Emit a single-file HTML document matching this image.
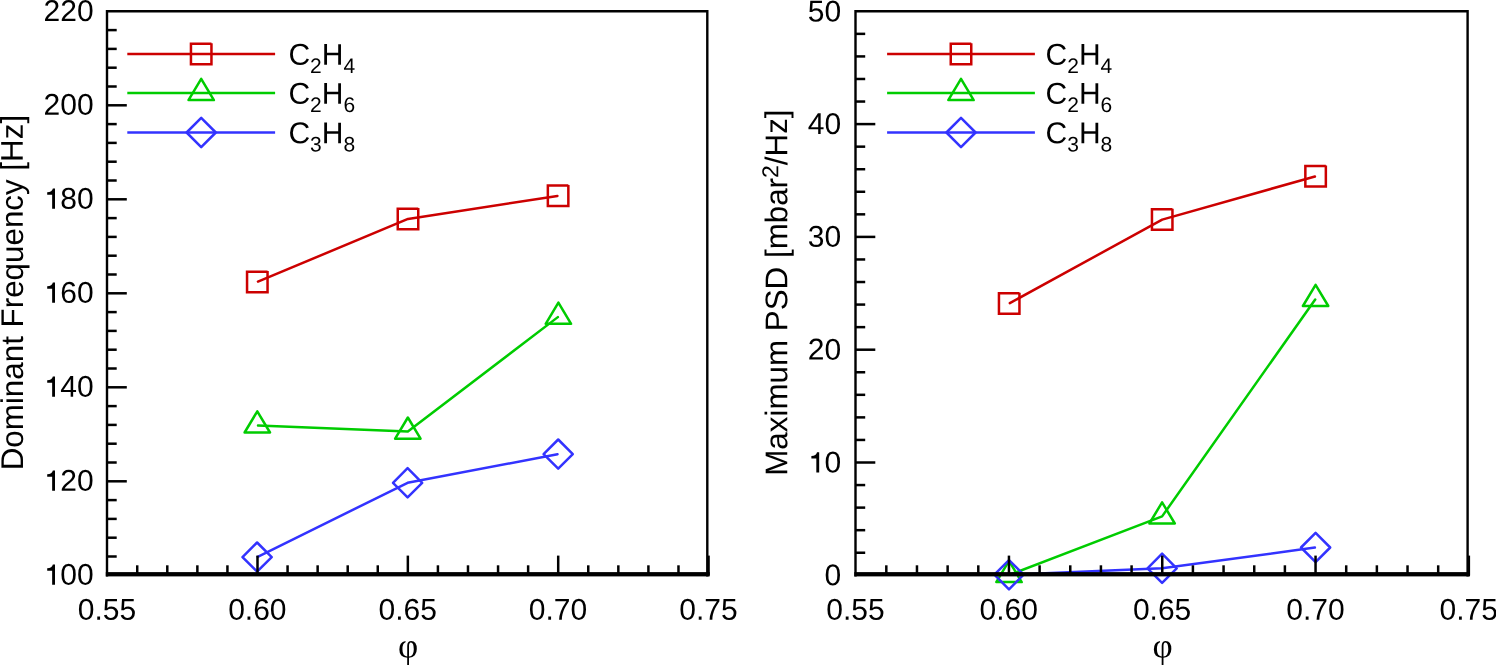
<!DOCTYPE html>
<html><head><meta charset="utf-8"><title>chart</title>
<style>html,body{margin:0;padding:0;background:#fff;overflow:hidden;}svg{display:block;will-change:transform;}text{font-family:"Liberation Sans",sans-serif;fill:#000;text-rendering:geometricPrecision;}</style>
</head><body>
<svg width="1496" height="665" viewBox="0 0 1496 665">
<rect x="0" y="0" width="1496" height="665" fill="#fff"/>
<polyline points="257.95,281.63 408.00,218.90 557.41,195.91" fill="none" stroke="#cc0000" stroke-width="2.5" stroke-linecap="round" stroke-linejoin="round"/>
<path d="M267.55 271.65L247.05 271.65L247.05 292.15L267.55 292.15L267.55 271.05" fill="none" stroke="#cc0000" stroke-width="2.5" stroke-linejoin="miter"/>
<path d="M418.25 208.65L397.75 208.65L397.75 229.15L418.25 229.15L418.25 208.05" fill="none" stroke="#cc0000" stroke-width="2.5" stroke-linejoin="miter"/>
<path d="M568.35 185.55L547.85 185.55L547.85 206.05L568.35 206.05L568.35 184.95" fill="none" stroke="#cc0000" stroke-width="2.5" stroke-linejoin="miter"/>
<polyline points="258.00,425.43 407.85,431.60 557.84,317.12" fill="none" stroke="#00cc00" stroke-width="2.5" stroke-linecap="round" stroke-linejoin="round"/>
<path d="M257.30 411.30L270.00 432.50L244.60 432.50Z" fill="none" stroke="#00cc00" stroke-width="2.5" stroke-linejoin="round"/>
<path d="M407.85 417.50L420.55 438.70L395.15 438.70Z" fill="none" stroke="#00cc00" stroke-width="2.5" stroke-linejoin="round"/>
<path d="M558.40 302.60L571.10 323.80L545.70 323.80Z" fill="none" stroke="#00cc00" stroke-width="2.5" stroke-linejoin="round"/>
<polyline points="257.73,556.79 407.60,482.80 557.51,454.23" fill="none" stroke="#3333ff" stroke-width="2.5" stroke-linecap="round" stroke-linejoin="round"/>
<path d="M257.10 542.50L271.70 557.10L257.10 571.70L242.50 557.10Z" fill="none" stroke="#3333ff" stroke-width="2.5" stroke-linejoin="round"/>
<path d="M407.60 468.20L422.20 482.80L407.60 497.40L393.00 482.80Z" fill="none" stroke="#3333ff" stroke-width="2.5" stroke-linejoin="round"/>
<path d="M558.20 439.50L572.80 454.10L558.20 468.70L543.60 454.10Z" fill="none" stroke="#3333ff" stroke-width="2.5" stroke-linejoin="round"/>
<line x1="127.3" y1="54.0" x2="275.1" y2="54.0" stroke="#cc0000" stroke-width="2.5"/>
<path d="M211.45 43.75L190.95 43.75L190.95 64.25L211.45 64.25L211.45 43.15" fill="none" stroke="#cc0000" stroke-width="2.5" stroke-linejoin="miter"/>
<text x="288.4" y="64.70" transform="rotate(0.03 288.4 64.70)" font-size="30">C<tspan font-size="21" dy="8.2">2</tspan><tspan dy="-8.2">H</tspan><tspan font-size="21" dy="8.2">4</tspan></text>
<line x1="127.3" y1="93.0" x2="275.1" y2="93.0" stroke="#00cc00" stroke-width="2.5"/>
<path d="M201.20 78.90L213.90 100.10L188.50 100.10Z" fill="none" stroke="#00cc00" stroke-width="2.5" stroke-linejoin="round"/>
<text x="288.4" y="103.70" transform="rotate(0.03 288.4 103.70)" font-size="30">C<tspan font-size="21" dy="8.2">2</tspan><tspan dy="-8.2">H</tspan><tspan font-size="21" dy="8.2">6</tspan></text>
<line x1="127.3" y1="132.5" x2="275.1" y2="132.5" stroke="#3333ff" stroke-width="2.5"/>
<path d="M201.20 117.90L215.80 132.50L201.20 147.10L186.60 132.50Z" fill="none" stroke="#3333ff" stroke-width="2.5" stroke-linejoin="round"/>
<text x="288.4" y="143.20" transform="rotate(0.03 288.4 143.20)" font-size="30">C<tspan font-size="21" dy="8.2">3</tspan><tspan dy="-8.2">H</tspan><tspan font-size="21" dy="8.2">8</tspan></text>
<path d="M107.0 576.4L107.0 11.2L707.3 11.2L707.3 576.4" fill="none" stroke="#000" stroke-width="2.4" stroke-linejoin="miter"/>
<rect x="105.8" y="572.1" width="603.9" height="4.2999999999999545" fill="#000"/>
<text x="93.60" y="584.85" transform="rotate(0.03 93.60 584.85)" font-size="30" text-anchor="end">00</text>
<path transform="translate(43.55 584.85)" d="M8.6 0H11.45V-20.3H9.3Q8.6 -16.8 3.65 -16.5V-14.0H8.6Z" fill="#000"/>
<line x1="107.0" y1="556.50" x2="116.7" y2="556.50" stroke="#000" stroke-width="2.5"/>
<line x1="107.0" y1="537.70" x2="116.7" y2="537.70" stroke="#000" stroke-width="2.5"/>
<line x1="107.0" y1="518.90" x2="116.7" y2="518.90" stroke="#000" stroke-width="2.5"/>
<line x1="107.0" y1="500.10" x2="116.7" y2="500.10" stroke="#000" stroke-width="2.5"/>
<line x1="107.0" y1="481.30" x2="126.8" y2="481.30" stroke="#000" stroke-width="2.5"/>
<text x="93.60" y="490.85" transform="rotate(0.03 93.60 490.85)" font-size="30" text-anchor="end">20</text>
<path transform="translate(43.55 490.85)" d="M8.6 0H11.45V-20.3H9.3Q8.6 -16.8 3.65 -16.5V-14.0H8.6Z" fill="#000"/>
<line x1="107.0" y1="462.50" x2="116.7" y2="462.50" stroke="#000" stroke-width="2.5"/>
<line x1="107.0" y1="443.70" x2="116.7" y2="443.70" stroke="#000" stroke-width="2.5"/>
<line x1="107.0" y1="424.90" x2="116.7" y2="424.90" stroke="#000" stroke-width="2.5"/>
<line x1="107.0" y1="406.10" x2="116.7" y2="406.10" stroke="#000" stroke-width="2.5"/>
<line x1="107.0" y1="387.30" x2="126.8" y2="387.30" stroke="#000" stroke-width="2.5"/>
<text x="93.60" y="396.85" transform="rotate(0.03 93.60 396.85)" font-size="30" text-anchor="end">40</text>
<path transform="translate(43.55 396.85)" d="M8.6 0H11.45V-20.3H9.3Q8.6 -16.8 3.65 -16.5V-14.0H8.6Z" fill="#000"/>
<line x1="107.0" y1="368.50" x2="116.7" y2="368.50" stroke="#000" stroke-width="2.5"/>
<line x1="107.0" y1="349.70" x2="116.7" y2="349.70" stroke="#000" stroke-width="2.5"/>
<line x1="107.0" y1="330.90" x2="116.7" y2="330.90" stroke="#000" stroke-width="2.5"/>
<line x1="107.0" y1="312.10" x2="116.7" y2="312.10" stroke="#000" stroke-width="2.5"/>
<line x1="107.0" y1="293.30" x2="126.8" y2="293.30" stroke="#000" stroke-width="2.5"/>
<text x="93.60" y="302.85" transform="rotate(0.03 93.60 302.85)" font-size="30" text-anchor="end">60</text>
<path transform="translate(43.55 302.85)" d="M8.6 0H11.45V-20.3H9.3Q8.6 -16.8 3.65 -16.5V-14.0H8.6Z" fill="#000"/>
<line x1="107.0" y1="274.50" x2="116.7" y2="274.50" stroke="#000" stroke-width="2.5"/>
<line x1="107.0" y1="255.70" x2="116.7" y2="255.70" stroke="#000" stroke-width="2.5"/>
<line x1="107.0" y1="236.90" x2="116.7" y2="236.90" stroke="#000" stroke-width="2.5"/>
<line x1="107.0" y1="218.10" x2="116.7" y2="218.10" stroke="#000" stroke-width="2.5"/>
<line x1="107.0" y1="199.30" x2="126.8" y2="199.30" stroke="#000" stroke-width="2.5"/>
<text x="93.60" y="208.85" transform="rotate(0.03 93.60 208.85)" font-size="30" text-anchor="end">80</text>
<path transform="translate(43.55 208.85)" d="M8.6 0H11.45V-20.3H9.3Q8.6 -16.8 3.65 -16.5V-14.0H8.6Z" fill="#000"/>
<line x1="107.0" y1="180.50" x2="116.7" y2="180.50" stroke="#000" stroke-width="2.5"/>
<line x1="107.0" y1="161.70" x2="116.7" y2="161.70" stroke="#000" stroke-width="2.5"/>
<line x1="107.0" y1="142.90" x2="116.7" y2="142.90" stroke="#000" stroke-width="2.5"/>
<line x1="107.0" y1="124.10" x2="116.7" y2="124.10" stroke="#000" stroke-width="2.5"/>
<line x1="107.0" y1="105.30" x2="126.8" y2="105.30" stroke="#000" stroke-width="2.5"/>
<text x="93.60" y="114.85" transform="rotate(0.03 93.60 114.85)" font-size="30" text-anchor="end">200</text>
<line x1="107.0" y1="86.50" x2="116.7" y2="86.50" stroke="#000" stroke-width="2.5"/>
<line x1="107.0" y1="67.70" x2="116.7" y2="67.70" stroke="#000" stroke-width="2.5"/>
<line x1="107.0" y1="48.90" x2="116.7" y2="48.90" stroke="#000" stroke-width="2.5"/>
<line x1="107.0" y1="30.10" x2="116.7" y2="30.10" stroke="#000" stroke-width="2.5"/>
<text x="93.60" y="20.95" transform="rotate(0.03 93.60 20.95)" font-size="30" text-anchor="end">220</text>
<text x="107.00" y="619.7" transform="rotate(0.03 107.00 619.7)" font-size="30" text-anchor="middle">0.55</text>
<line x1="137.22" y1="575.4" x2="137.22" y2="565.3" stroke="#000" stroke-width="2.5"/>
<line x1="167.29" y1="575.4" x2="167.29" y2="565.3" stroke="#000" stroke-width="2.5"/>
<line x1="197.36" y1="575.4" x2="197.36" y2="565.3" stroke="#000" stroke-width="2.5"/>
<line x1="227.43" y1="575.4" x2="227.43" y2="565.3" stroke="#000" stroke-width="2.5"/>
<line x1="257.50" y1="575.4" x2="257.50" y2="555.6" stroke="#000" stroke-width="2.5"/>
<text x="257.35" y="619.7" transform="rotate(0.03 257.35 619.7)" font-size="30" text-anchor="middle">0.60</text>
<line x1="287.57" y1="575.4" x2="287.57" y2="565.3" stroke="#000" stroke-width="2.5"/>
<line x1="317.64" y1="575.4" x2="317.64" y2="565.3" stroke="#000" stroke-width="2.5"/>
<line x1="347.71" y1="575.4" x2="347.71" y2="565.3" stroke="#000" stroke-width="2.5"/>
<line x1="377.78" y1="575.4" x2="377.78" y2="565.3" stroke="#000" stroke-width="2.5"/>
<line x1="407.85" y1="575.4" x2="407.85" y2="555.6" stroke="#000" stroke-width="2.5"/>
<text x="407.70" y="619.7" transform="rotate(0.03 407.70 619.7)" font-size="30" text-anchor="middle">0.65</text>
<line x1="437.92" y1="575.4" x2="437.92" y2="565.3" stroke="#000" stroke-width="2.5"/>
<line x1="467.99" y1="575.4" x2="467.99" y2="565.3" stroke="#000" stroke-width="2.5"/>
<line x1="498.06" y1="575.4" x2="498.06" y2="565.3" stroke="#000" stroke-width="2.5"/>
<line x1="528.13" y1="575.4" x2="528.13" y2="565.3" stroke="#000" stroke-width="2.5"/>
<line x1="558.20" y1="575.4" x2="558.20" y2="555.6" stroke="#000" stroke-width="2.5"/>
<text x="558.05" y="619.7" transform="rotate(0.03 558.05 619.7)" font-size="30" text-anchor="middle">0.70</text>
<line x1="588.27" y1="575.4" x2="588.27" y2="565.3" stroke="#000" stroke-width="2.5"/>
<line x1="618.34" y1="575.4" x2="618.34" y2="565.3" stroke="#000" stroke-width="2.5"/>
<line x1="648.41" y1="575.4" x2="648.41" y2="565.3" stroke="#000" stroke-width="2.5"/>
<line x1="678.48" y1="575.4" x2="678.48" y2="565.3" stroke="#000" stroke-width="2.5"/>
<line x1="708.55" y1="575.4" x2="708.55" y2="555.6" stroke="#000" stroke-width="2.5"/>
<text x="708.40" y="619.7" transform="rotate(0.03 708.40 619.7)" font-size="30" text-anchor="middle">0.75</text>
<text x="408.20" y="657.6" transform="rotate(0.03 407.70 657.6)" font-size="35" text-anchor="middle" style="font-family:'Liberation Serif',serif">φ</text>
<text transform="translate(22.9 292.60) rotate(-90.03)" font-size="31.35" text-anchor="middle">Dominant Frequency [Hz]</text>
<polyline points="1009.81,303.16 1162.20,219.60 1314.93,176.49" fill="none" stroke="#cc0000" stroke-width="2.5" stroke-linecap="round" stroke-linejoin="round"/>
<path d="M1019.45 293.25L998.95 293.25L998.95 313.75L1019.45 313.75L1019.45 292.65" fill="none" stroke="#cc0000" stroke-width="2.5" stroke-linejoin="miter"/>
<path d="M1172.45 209.35L1151.95 209.35L1151.95 229.85L1172.45 229.85L1172.45 208.75" fill="none" stroke="#cc0000" stroke-width="2.5" stroke-linejoin="miter"/>
<path d="M1325.85 166.05L1305.35 166.05L1305.35 186.55L1325.85 186.55L1325.85 165.45" fill="none" stroke="#cc0000" stroke-width="2.5" stroke-linejoin="miter"/>
<polyline points="1009.65,574.75 1162.10,516.40 1315.20,299.47" fill="none" stroke="#00cc00" stroke-width="2.5" stroke-linecap="round" stroke-linejoin="round"/>
<path d="M1009.00 560.90L1021.70 582.10L996.30 582.10Z" fill="none" stroke="#00cc00" stroke-width="2.5" stroke-linejoin="round"/>
<path d="M1162.10 502.30L1174.80 523.50L1149.40 523.50Z" fill="none" stroke="#00cc00" stroke-width="2.5" stroke-linejoin="round"/>
<path d="M1315.60 284.80L1328.30 306.00L1302.90 306.00Z" fill="none" stroke="#00cc00" stroke-width="2.5" stroke-linejoin="round"/>
<polyline points="1009.70,574.67 1162.10,568.30 1314.91,547.59" fill="none" stroke="#3333ff" stroke-width="2.5" stroke-linecap="round" stroke-linejoin="round"/>
<path d="M1009.00 560.10L1023.60 574.70L1009.00 589.30L994.40 574.70Z" fill="none" stroke="#3333ff" stroke-width="2.5" stroke-linejoin="round"/>
<path d="M1162.10 553.70L1176.70 568.30L1162.10 582.90L1147.50 568.30Z" fill="none" stroke="#3333ff" stroke-width="2.5" stroke-linejoin="round"/>
<path d="M1315.60 532.90L1330.20 547.50L1315.60 562.10L1301.00 547.50Z" fill="none" stroke="#3333ff" stroke-width="2.5" stroke-linejoin="round"/>
<line x1="887.1" y1="54.0" x2="1034.9" y2="54.0" stroke="#cc0000" stroke-width="2.5"/>
<path d="M971.25 43.75L950.75 43.75L950.75 64.25L971.25 64.25L971.25 43.15" fill="none" stroke="#cc0000" stroke-width="2.5" stroke-linejoin="miter"/>
<text x="1045.6" y="64.70" transform="rotate(0.03 1045.6 64.70)" font-size="30">C<tspan font-size="21" dy="8.2">2</tspan><tspan dy="-8.2">H</tspan><tspan font-size="21" dy="8.2">4</tspan></text>
<line x1="887.1" y1="93.0" x2="1034.9" y2="93.0" stroke="#00cc00" stroke-width="2.5"/>
<path d="M961.00 78.90L973.70 100.10L948.30 100.10Z" fill="none" stroke="#00cc00" stroke-width="2.5" stroke-linejoin="round"/>
<text x="1045.6" y="103.70" transform="rotate(0.03 1045.6 103.70)" font-size="30">C<tspan font-size="21" dy="8.2">2</tspan><tspan dy="-8.2">H</tspan><tspan font-size="21" dy="8.2">6</tspan></text>
<line x1="887.1" y1="132.5" x2="1034.9" y2="132.5" stroke="#3333ff" stroke-width="2.5"/>
<path d="M961.00 117.90L975.60 132.50L961.00 147.10L946.40 132.50Z" fill="none" stroke="#3333ff" stroke-width="2.5" stroke-linejoin="round"/>
<text x="1045.6" y="143.20" transform="rotate(0.03 1045.6 143.20)" font-size="30">C<tspan font-size="21" dy="8.2">3</tspan><tspan dy="-8.2">H</tspan><tspan font-size="21" dy="8.2">8</tspan></text>
<path d="M855.5 576.4L855.5 11.2L1467.6 11.2L1467.6 576.4" fill="none" stroke="#000" stroke-width="2.4" stroke-linejoin="miter"/>
<rect x="854.3" y="572.1" width="615.6999999999999" height="4.2999999999999545" fill="#000"/>
<text x="841.10" y="585.25" transform="rotate(0.03 841.10 585.25)" font-size="30" text-anchor="end">0</text>
<line x1="855.5" y1="552.74" x2="865.2" y2="552.74" stroke="#000" stroke-width="2.5"/>
<line x1="855.5" y1="530.18" x2="865.2" y2="530.18" stroke="#000" stroke-width="2.5"/>
<line x1="855.5" y1="507.62" x2="865.2" y2="507.62" stroke="#000" stroke-width="2.5"/>
<line x1="855.5" y1="485.06" x2="865.2" y2="485.06" stroke="#000" stroke-width="2.5"/>
<line x1="855.5" y1="462.50" x2="875.3" y2="462.50" stroke="#000" stroke-width="2.5"/>
<text x="841.10" y="472.45" transform="rotate(0.03 841.10 472.45)" font-size="30" text-anchor="end">0</text>
<path transform="translate(807.73 472.45)" d="M8.6 0H11.45V-20.3H9.3Q8.6 -16.8 3.65 -16.5V-14.0H8.6Z" fill="#000"/>
<line x1="855.5" y1="439.94" x2="865.2" y2="439.94" stroke="#000" stroke-width="2.5"/>
<line x1="855.5" y1="417.38" x2="865.2" y2="417.38" stroke="#000" stroke-width="2.5"/>
<line x1="855.5" y1="394.82" x2="865.2" y2="394.82" stroke="#000" stroke-width="2.5"/>
<line x1="855.5" y1="372.26" x2="865.2" y2="372.26" stroke="#000" stroke-width="2.5"/>
<line x1="855.5" y1="349.70" x2="875.3" y2="349.70" stroke="#000" stroke-width="2.5"/>
<text x="841.10" y="359.65" transform="rotate(0.03 841.10 359.65)" font-size="30" text-anchor="end">20</text>
<line x1="855.5" y1="327.14" x2="865.2" y2="327.14" stroke="#000" stroke-width="2.5"/>
<line x1="855.5" y1="304.58" x2="865.2" y2="304.58" stroke="#000" stroke-width="2.5"/>
<line x1="855.5" y1="282.02" x2="865.2" y2="282.02" stroke="#000" stroke-width="2.5"/>
<line x1="855.5" y1="259.46" x2="865.2" y2="259.46" stroke="#000" stroke-width="2.5"/>
<line x1="855.5" y1="236.90" x2="875.3" y2="236.90" stroke="#000" stroke-width="2.5"/>
<text x="841.10" y="246.85" transform="rotate(0.03 841.10 246.85)" font-size="30" text-anchor="end">30</text>
<line x1="855.5" y1="214.34" x2="865.2" y2="214.34" stroke="#000" stroke-width="2.5"/>
<line x1="855.5" y1="191.78" x2="865.2" y2="191.78" stroke="#000" stroke-width="2.5"/>
<line x1="855.5" y1="169.22" x2="865.2" y2="169.22" stroke="#000" stroke-width="2.5"/>
<line x1="855.5" y1="146.66" x2="865.2" y2="146.66" stroke="#000" stroke-width="2.5"/>
<line x1="855.5" y1="124.10" x2="875.3" y2="124.10" stroke="#000" stroke-width="2.5"/>
<text x="841.10" y="134.05" transform="rotate(0.03 841.10 134.05)" font-size="30" text-anchor="end">40</text>
<line x1="855.5" y1="101.54" x2="865.2" y2="101.54" stroke="#000" stroke-width="2.5"/>
<line x1="855.5" y1="78.98" x2="865.2" y2="78.98" stroke="#000" stroke-width="2.5"/>
<line x1="855.5" y1="56.42" x2="865.2" y2="56.42" stroke="#000" stroke-width="2.5"/>
<line x1="855.5" y1="33.86" x2="865.2" y2="33.86" stroke="#000" stroke-width="2.5"/>
<text x="841.10" y="21.55" transform="rotate(0.03 841.10 21.55)" font-size="30" text-anchor="end">50</text>
<text x="855.50" y="619.7" transform="rotate(0.03 855.50 619.7)" font-size="30" text-anchor="middle">0.55</text>
<line x1="886.31" y1="575.4" x2="886.31" y2="565.3" stroke="#000" stroke-width="2.5"/>
<line x1="916.97" y1="575.4" x2="916.97" y2="565.3" stroke="#000" stroke-width="2.5"/>
<line x1="947.63" y1="575.4" x2="947.63" y2="565.3" stroke="#000" stroke-width="2.5"/>
<line x1="978.29" y1="575.4" x2="978.29" y2="565.3" stroke="#000" stroke-width="2.5"/>
<line x1="1008.95" y1="575.4" x2="1008.95" y2="555.6" stroke="#000" stroke-width="2.5"/>
<text x="1008.80" y="619.7" transform="rotate(0.03 1008.80 619.7)" font-size="30" text-anchor="middle">0.60</text>
<line x1="1039.61" y1="575.4" x2="1039.61" y2="565.3" stroke="#000" stroke-width="2.5"/>
<line x1="1070.27" y1="575.4" x2="1070.27" y2="565.3" stroke="#000" stroke-width="2.5"/>
<line x1="1100.93" y1="575.4" x2="1100.93" y2="565.3" stroke="#000" stroke-width="2.5"/>
<line x1="1131.59" y1="575.4" x2="1131.59" y2="565.3" stroke="#000" stroke-width="2.5"/>
<line x1="1162.25" y1="575.4" x2="1162.25" y2="555.6" stroke="#000" stroke-width="2.5"/>
<text x="1162.10" y="619.7" transform="rotate(0.03 1162.10 619.7)" font-size="30" text-anchor="middle">0.65</text>
<line x1="1192.91" y1="575.4" x2="1192.91" y2="565.3" stroke="#000" stroke-width="2.5"/>
<line x1="1223.57" y1="575.4" x2="1223.57" y2="565.3" stroke="#000" stroke-width="2.5"/>
<line x1="1254.23" y1="575.4" x2="1254.23" y2="565.3" stroke="#000" stroke-width="2.5"/>
<line x1="1284.89" y1="575.4" x2="1284.89" y2="565.3" stroke="#000" stroke-width="2.5"/>
<line x1="1315.55" y1="575.4" x2="1315.55" y2="555.6" stroke="#000" stroke-width="2.5"/>
<text x="1315.40" y="619.7" transform="rotate(0.03 1315.40 619.7)" font-size="30" text-anchor="middle">0.70</text>
<line x1="1346.21" y1="575.4" x2="1346.21" y2="565.3" stroke="#000" stroke-width="2.5"/>
<line x1="1376.87" y1="575.4" x2="1376.87" y2="565.3" stroke="#000" stroke-width="2.5"/>
<line x1="1407.53" y1="575.4" x2="1407.53" y2="565.3" stroke="#000" stroke-width="2.5"/>
<line x1="1438.19" y1="575.4" x2="1438.19" y2="565.3" stroke="#000" stroke-width="2.5"/>
<line x1="1468.85" y1="575.4" x2="1468.85" y2="555.6" stroke="#000" stroke-width="2.5"/>
<text x="1468.70" y="619.7" transform="rotate(0.03 1468.70 619.7)" font-size="30" text-anchor="middle">0.75</text>
<text x="1162.60" y="657.6" transform="rotate(0.03 1162.10 657.6)" font-size="35" text-anchor="middle" style="font-family:'Liberation Serif',serif">φ</text>
<text transform="translate(787.2 292.60) rotate(-90.03)" font-size="31.35" text-anchor="middle">Maximum PSD [mbar<tspan font-size="23" dy="-9">2</tspan><tspan dy="9">/Hz]</tspan></text>
</svg></body></html>
